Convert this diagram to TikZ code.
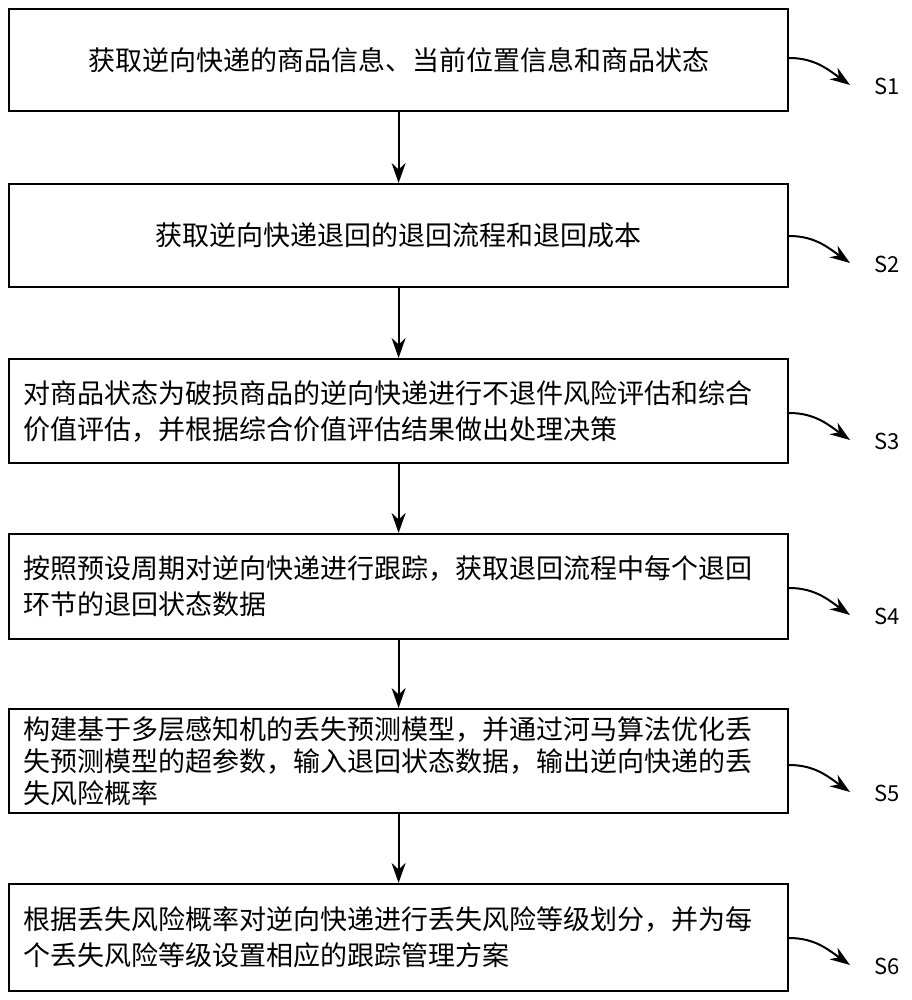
\documentclass[tikz,border=0pt]{standalone}
\usepackage{fontspec}
\setmainfont{Noto Sans CJK SC}
\usetikzlibrary{arrows.meta}
\begin{document}
\begin{tikzpicture}[x=1pt,y=-1pt,
  stepbox/.style={draw,line width=2.2pt,minimum width=779pt,inner sep=0pt,anchor=north west,font=\fontsize{27}{36}\selectfont},
  ml/.style={text width=750pt,align=left},
  flow/.style={-{Stealth[length=20pt,width=14pt]},line width=2pt},
  lab/.style={font=\fontsize{22}{26}\selectfont}]
\useasboundingbox (0,0) rectangle (911,1000);
\node[stepbox,minimum height=102pt] (b1) at (8,8) {获取逆向快递的商品信息、当前位置信息和商品状态};
\node[stepbox,minimum height=103pt] (b2) at (8,183) {获取逆向快递退回的退回流程和退回成本};
\node[stepbox,minimum height=104pt,ml] (b3) at (8,358) {对商品状态为破损商品的逆向快递进行不退件风险评估和综合\\价值评估，并根据综合价值评估结果做出处理决策};
\node[stepbox,minimum height=105pt,ml] (b4) at (8,533) {按照预设周期对逆向快递进行跟踪，获取退回流程中每个退回\\环节的退回状态数据};
\node[stepbox,minimum height=104pt,ml,font=\fontsize{27}{32}\selectfont] (b5) at (8,708) {构建基于多层感知机的丢失预测模型，并通过河马算法优化丢\\失预测模型的超参数，输入退回状态数据，输出逆向快递的丢\\失风险概率};
\node[stepbox,minimum height=107pt,ml] (b6) at (8,883) {根据丢失风险概率对逆向快递进行丢失风险等级划分，并为每\\个丢失风险等级设置相应的跟踪管理方案};
\foreach \a/\b in {b1/b2,b2/b3,b3/b4,b4/b5,b5/b6}
  \draw[flow] (\a.south) -- (\b.north);
\foreach \i/\y in {1/58,2/236,3/413,4/588,5/765,6/938}{
  \coordinate (e\i) at (850,\y+27);
  \node[lab] (s\i) at (887,\y+28) {S\i};
  \draw[flow] (b\i.east|-0,\y) to[out=0,in=145] (e\i);
}
\end{tikzpicture}
\end{document}
